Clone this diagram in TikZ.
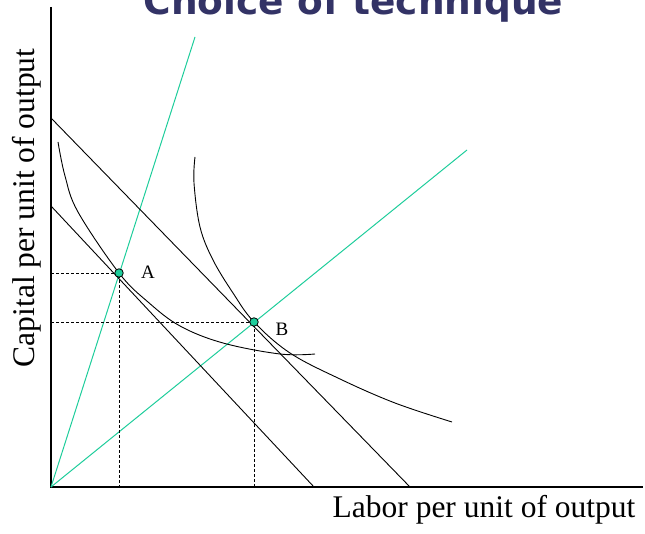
\documentclass[tikz,border=0pt]{standalone}
\usepackage{fontspec}
\setmainfont{Liberation Serif}
\newfontfamily\titlefont{DejaVu Sans}
\usetikzlibrary{positioning}
\definecolor{raygreen}{RGB}{30,205,155}
\definecolor{titleblue}{RGB}{51,51,102}

\begin{document}
\begin{tikzpicture}[
    x=1pt, y=1pt,
    axis/.style={line width=1.3pt},
    ray/.style={draw=raygreen, line width=1pt},
    isocost/.style={line width=0.9pt},
    isoquant/.style={line width=0.9pt},
    guide/.style={line width=0.7pt, dash pattern=on 3pt off 2pt},
    tech/.style={circle, draw, fill=raygreen, inner sep=0pt, minimum size=8.5pt, line width=0.8pt},
    lbl/.style={font=\fontsize{19}{22}\selectfont},
    axlbl/.style={font=\fontsize{31.5}{36}\selectfont}
  ]
  \useasboundingbox (0,0) rectangle (645,534);
  \clip (0,0) rectangle (645,534);

  % axes
  \coordinate (O) at (51,47);
  \coordinate (ytop) at (51,527);
  \coordinate (xend) at (643,47);
  \draw[axis] (ytop) -- (O) -- (xend);

  % techniques
  \coordinate (A) at (119,261);
  \coordinate (B) at (254,212);
  \coordinate (rayA) at (195,497);
  \coordinate (rayB) at (467,384);
  \draw[ray] (O) -- (rayA);
  \draw[ray] (O) -- (rayB);

  % isocost lines
  \coordinate (c1k) at (51,328);
  \coordinate (c1l) at (314,47);
  \coordinate (c2k) at (51,416);
  \coordinate (c2l) at (410,47);
  \draw[isocost] (c1k) -- (c1l);
  \draw[isocost] (c2k) -- (c2l);

  % isoquants
  \draw[isoquant] plot[smooth, tension=0.6] coordinates {(58,392) (65,358) (78,322) (A) (148,232) (180,208) (223,191) (280,180) (315,180)};
  \draw[isoquant] plot[smooth, tension=0.6] coordinates {(195,377) (194,351) (200,307) (213,274) (233,241) (B) (290,181) (340,155) (395,131) (452,112)};

  % guides to the axes
  \draw[guide] (A -| O) -- (A) -- (A |- O);
  \draw[guide] (B -| O) -- (B) -- (B |- O);

  \node[tech] (dotA) at (A) {};
  \node[tech] (dotB) at (B) {};
  \node[lbl, anchor=base] (labA) at (148,255) {A};
  \node[lbl, anchor=base] (labB) at (282,198) {B};

  % labels
  \node[axlbl, anchor=base] (xlab) at (484,16) {Labor per unit of output};
  \node[axlbl, anchor=base, rotate=90] (ylab) at (34,326) {Capital per unit of output};
  \node[anchor=base, text=titleblue, font=\titlefont\bfseries\fontsize{37.5}{44}\selectfont] (title) at (353.5,519) {Choice of technique};
\end{tikzpicture}
\end{document}
